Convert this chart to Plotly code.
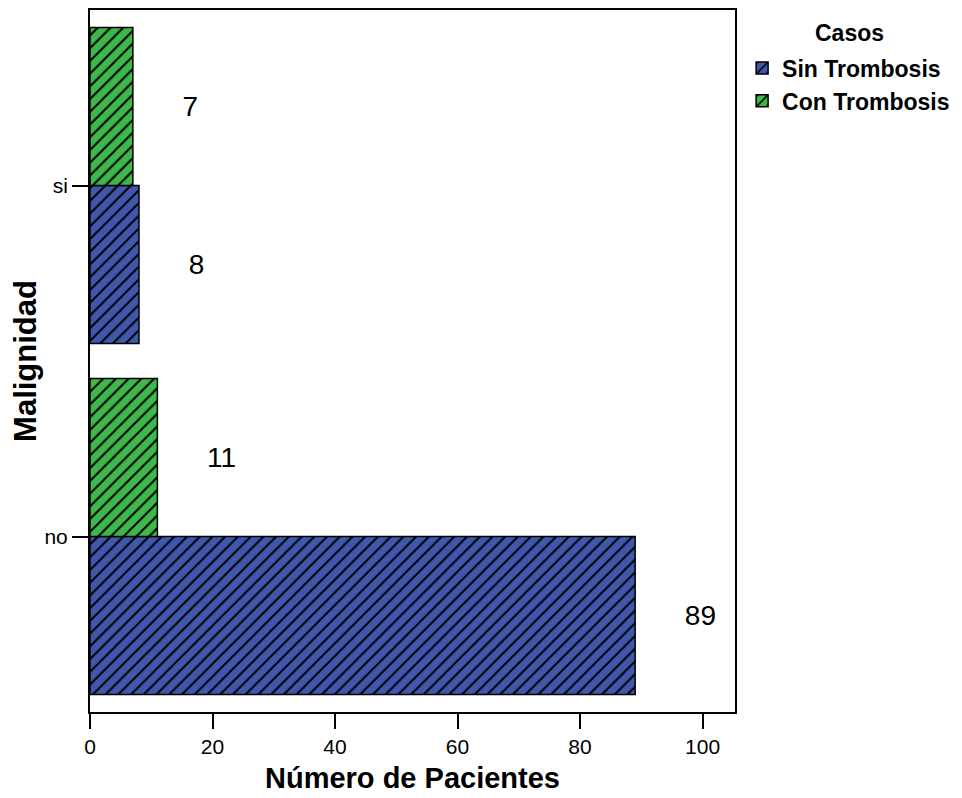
import plotly.graph_objects as go

categories = ["no", "si"]
sin_trombosis = [89, 8]
con_trombosis = [11, 7]
series_names = ["Sin Trombosis", "Con Trombosis"]
legend_title = "Casos"
x_ticks = [0, 20, 40, 60, 80, 100]

BLUE = "#3F58AD"
GREEN = "#3DB84A"
FONT = "Liberation Sans, Arial, sans-serif"
PAD = "\u00a0" * 6

fig = go.Figure()
for name, vals, col, grp in [(series_names[0], sin_trombosis, BLUE, "a"),
                             (series_names[1], con_trombosis, GREEN, "b")]:
    fig.add_trace(go.Bar(
        y=categories, x=vals, name=name, orientation="h",
        legendgroup=grp,
        marker=dict(color=col,
                    line=dict(color="black", width=1.5),
                    pattern=dict(shape="/", fgcolor="black", bgcolor=col,
                                 size=9, solidity=0.22, fgopacity=1)),
        texttemplate=PAD + "%{x}", textposition="outside",
        constraintext="none", cliponaxis=False,
        textfont=dict(family=FONT, size=28, color="black"),
    ))

fig.add_annotation(
    text="<b>" + legend_title + "</b>", xref="paper", yref="paper",
    x=1.178, y=0.967, xanchor="center", yanchor="middle", showarrow=False,
    font=dict(family=FONT, size=23, color="black"),
)

fig.update_layout(
    width=962, height=798,
    margin=dict(l=82, r=235, t=2, b=94),
    paper_bgcolor="white", plot_bgcolor="white",
    barmode="group", bargap=0.1, bargroupgap=0,
    font=dict(family=FONT, color="black"),
    showlegend=True,
    legend=dict(
        x=1.011, xanchor="left", y=0.948, yanchor="top",
        font=dict(family=FONT, size=23, color="black", weight="bold"),
        traceorder="normal", tracegroupgap=9,
        bgcolor="rgba(0,0,0,0)",
    ),
    xaxis=dict(
        range=[0, 105.3], tickvals=x_ticks, ticktext=[str(v) for v in x_ticks],
        showgrid=False, zeroline=False, automargin=False,
        showline=True, linecolor="black", linewidth=2, mirror=True,
        ticks="outside", ticklen=15, tickwidth=2, tickcolor="black",
        tickfont=dict(family=FONT, size=21, color="black"),
        title=dict(text="<b>Número de Pacientes</b>", standoff=10,
                   font=dict(family=FONT, size=29, color="black")),
    ),
    yaxis=dict(
        range=[-0.5, 1.5], type="category",
        showgrid=False, zeroline=False, automargin=False,
        showline=True, linecolor="black", linewidth=2, mirror=True,
        ticks="outside", ticklen=16, tickwidth=2, tickcolor="black",
        tickfont=dict(family=FONT, size=21, color="black"),
        title=dict(text="<b>Malignidad</b>", standoff=14,
                   font=dict(family=FONT, size=31, color="black")),
    ),
)

fig.write_html("out.html")
